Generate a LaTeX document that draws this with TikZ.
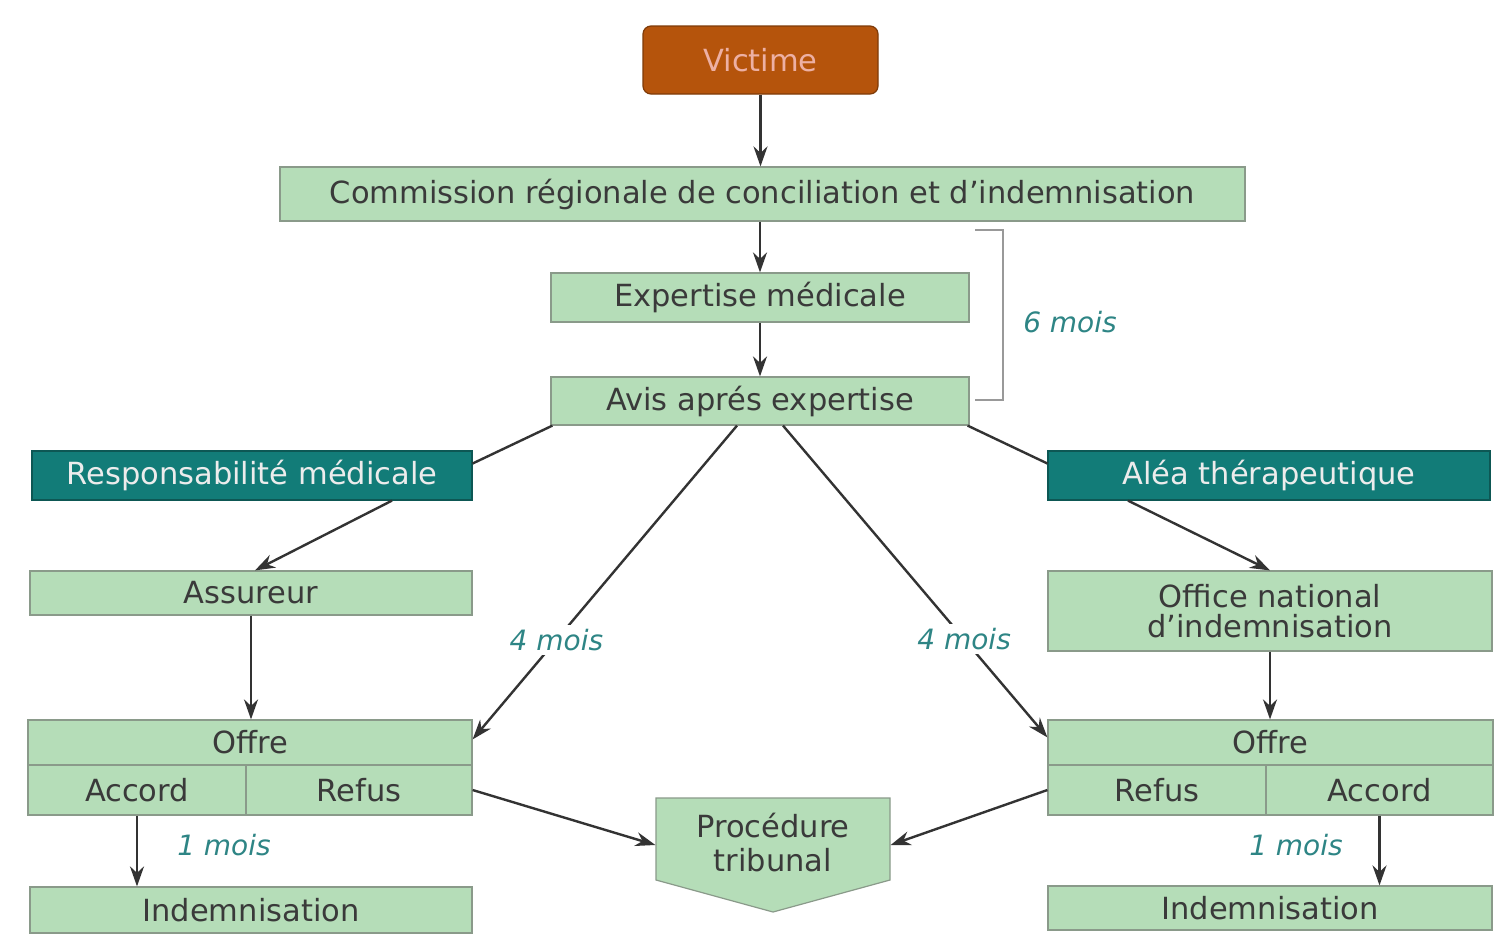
\documentclass[tikz,border=0pt]{standalone}
\usepackage{fontspec}
\setmainfont{DejaVu Sans}
\usetikzlibrary{arrows.meta,calc,backgrounds}
\definecolor{boxgreen}{HTML}{B5DDB8}
\definecolor{tealbox}{HTML}{127C78}
\definecolor{victc}{HTML}{B5540C}
\definecolor{victtxt}{HTML}{EDB0A4}
\definecolor{txt}{HTML}{3A3A3A}
\definecolor{lbl}{HTML}{2E8585}
\definecolor{edgec}{HTML}{8A9A8A}
\begin{document}
\begin{tikzpicture}[x=1pt,y=-1pt,
 box/.style={draw=edgec, line width=1.2pt, fill=boxgreen, text=txt, font=\fontsize{30.5}{30}\selectfont, inner sep=0pt, align=center},
 tbox/.style={box, fill=tealbox, draw=tealbox!70!black, text=white!85!gray},
 arr/.style={draw=black!80, line width=2.4pt, -{Stealth[length=20pt,width=14pt]}},
 ln/.style={draw=black!80, line width=2.4pt},
 lab/.style={text=lbl, font=\fontsize{28}{30}\selectfont\itshape, fill=white, inner sep=4pt},
 brc/.style={draw=gray!80, line width=1.5pt}]

\begin{scope}[on background layer]
\fill[white] (0,0) rectangle (1499,946);
\end{scope}
\useasboundingbox (0,0) rectangle (1499,946);

\node[box, rounded corners=8pt, fill=victc, draw=victc!70!black, text=victtxt, minimum width=235, minimum height=68] (vict) at (760.5,60) {Victime};
\node[box, minimum width=965, minimum height=54] (comm) at (762.5,194) {Commission régionale de conciliation et d’indemnisation};
\node[box, minimum width=418, minimum height=49] (exp) at (760,297.5) {Expertise médicale};
\node[box, minimum width=418, minimum height=48] (avis) at (760,401) {Avis aprés expertise};
\node[tbox, minimum width=440, minimum height=49] (resp) at (252,475.5) {Responsabilité médicale};
\node[tbox, minimum width=442, minimum height=49] (alea) at (1269,475.5) {Aléa thérapeutique};
\node[box, minimum width=442, minimum height=44] (ass) at (251,593) {Assureur};
\node[box, minimum width=444, minimum height=80] (office) at (1270,611) {Office national\\d’indemnisation};

\node[box, minimum width=444, minimum height=45] (offL) at (250,742.5) {Offre};
\node[box, minimum width=218, minimum height=50] (accL) at (137,790) {Accord};
\node[box, minimum width=226, minimum height=50] (refL) at (359,790) {Refus};
\node[box, minimum width=445, minimum height=45] (offR) at (1270.5,742.5) {Offre};
\node[box, minimum width=218, minimum height=50] (refR) at (1157,790) {Refus};
\node[box, minimum width=227, minimum height=50] (accR) at (1379.5,790) {Accord};

\node[box, minimum width=442, minimum height=46] (indL) at (251,910) {Indemnisation};
\node[box, minimum width=444, minimum height=44] (indR) at (1270,908) {Indemnisation};

\begin{scope}[on background layer]
\coordinate (pc) at (773,839);
\path[fill=boxgreen, draw=edgec, line width=1.2pt] ($(pc)+(-117,-41)$) -- ($(pc)+(117,-41)$) -- ($(pc)+(117,41)$) -- ($(pc)+(0,73)$) -- ($(pc)+(-117,41)$) -- cycle;
\end{scope}
\node[box, draw=none, fill=none, font=\fontsize{30.5}{34}\selectfont, minimum width=234, minimum height=82] (proc) at (773,843) {Procédure\\tribunal};

% bracket 6 mois
\coordinate (b1) at (975,230);
\coordinate (b2) at (1003,230);
\coordinate (b3) at (1003,400);
\coordinate (b4) at (975,400);
\draw[brc] (b1) -- (b2) -- (b3) -- (b4);
\node[lab] (six) at (1070,322) {6 mois};

% connectors
\draw[arr] (vict.south) -- (vict.south |- comm.north);
\draw[arr] (exp.north |- comm.south) -- (exp.north);
\draw[arr] (exp.south) -- (avis.north);
\draw[ln] ([xshift=2pt]avis.south west) -- ([yshift=12pt]resp.east);
\draw[ln] ([xshift=-2pt]avis.south east) -- ([yshift=12pt]alea.west);
\draw[arr] ([xshift=140pt]resp.south) -- ([xshift=4pt]ass.north);
\draw[arr] ([xshift=-141pt]alea.south) -- (office.north);
\draw[arr] (ass.south) -- (ass.south |- offL.north);
\draw[arr] (office.south) -- (office.south |- offR.north);
\draw[arr] ([xshift=-23pt]avis.south) -- node[lab, pos=0.683] (m4l) {4 mois} ([yshift=-20pt]offL.north east);
\draw[arr] ([xshift=23pt]avis.south) -- node[lab, pos=0.685] (m4r) {4 mois} ([yshift=-18pt]offR.north west);
\draw[arr] (refL.east) -- ([yshift=-2pt]proc.west);
\draw[arr] (refR.west) -- ([yshift=-2pt]proc.east);
\draw[arr] (accL.south) -- (accL.south |- indL.north);
\draw[arr] (accR.south) -- (accR.south |- indR.north);
\node[lab] (m1l) at (224,845) {1 mois};
\node[lab] (m1r) at (1296,845) {1 mois};
\end{tikzpicture}
\end{document}
